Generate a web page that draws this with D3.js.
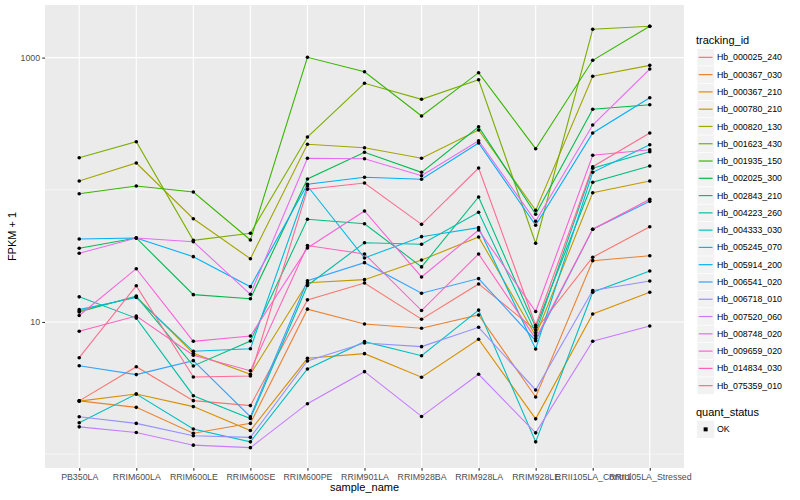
<!DOCTYPE html>
<html>
<head>
<meta charset="utf-8">
<script src="https://cdn.jsdelivr.net/npm/d3@7"></script>
<style>
  body { margin: 0; background: #fff; }
  text { font-family: "Liberation Sans", Arial, Helvetica, sans-serif; }
</style>
</head>
<body>
<div id="chart"></div>
<script>
// x categories
const samples = ["PB350LA", "RRIM600LA", "RRIM600LE", "RRIM600SE", "RRIM600PE", "RRIM901LA",
  "RRIM928BA", "RRIM928LA", "RRIM928LE", "RRII105LA_Control", "RRII105LA_Stressed"];

const trackingIds = ["Hb_000025_240", "Hb_000367_030", "Hb_000367_210", "Hb_000780_210", "Hb_000820_130",
  "Hb_001623_430", "Hb_001935_150", "Hb_002025_300", "Hb_002843_210", "Hb_004223_260",
  "Hb_004333_030", "Hb_005245_070", "Hb_005914_200", "Hb_006541_020", "Hb_006718_010",
  "Hb_007520_060", "Hb_008748_020", "Hb_009659_020", "Hb_014834_030", "Hb_075359_010"];

// FPKM + 1, one value per sample
const hb_000025_240 = [2.53, 4.59, 2.54, 2.33, 14.7, 19.7, 10.5, 19.4, 8.7, 30.9, 52.6];
const hb_000367_030 = [2.53, 2.26, 1.44, 1.71, 12.5, 9.66, 8.96, 11.3, 2.71, 29.1, 31.7];
const hb_000367_210 = [2.52, 2.85, 2.29, 1.51, 5.31, 5.76, 3.82, 7.40, 1.85, 11.5, 16.8];
const hb_000780_210 = [12.1, 15.5, 5.80, 4.02, 19.8, 20.9, 29.4, 43.9, 7.88, 95.1, 116.5];
const hb_000820_130 = [116.5, 159.5, 60.4, 30.1, 220.9, 208.2, 173.1, 283.4, 69.9, 722, 874];
const hb_001623_430 = [174.9, 231.1, 41.5, 46.9, 250.8, 639, 483.5, 680, 39.4, 1637, 1725];
const hb_001935_150 = [93.4, 106.8, 96.2, 41.7, 1005, 782, 361.5, 769, 204.6, 954, 1725];
const hb_002025_300 = [36.1, 43.2, 16.1, 15.0, 120.7, 192.1, 135.6, 300.1, 65.3, 406.3, 440.3];
const hb_002843_210 = [11.9, 15.7, 4.65, 7.18, 59.8, 55.4, 26.1, 88.2, 9.12, 113.9, 151.4];
const hb_004223_260 = [15.5, 10.7, 2.77, 1.86, 18.9, 39.8, 38.7, 67.6, 8.30, 145.4, 194.2];
const hb_004333_030 = [1.73, 2.85, 1.55, 1.24, 4.41, 7.10, 5.56, 12.3, 1.24, 16.8, 24.3];
const hb_005245_070 = [12.4, 15.3, 6.00, 6.28, 106.8, 30.5, 44.2, 51.7, 6.25, 135.6, 219.4];
const hb_005914_200 = [42.4, 43.2, 31.2, 18.5, 110.0, 124.3, 120.1, 225.9, 53.9, 268.9, 497.2];
const hb_006541_020 = [4.67, 4.00, 5.10, 1.92, 20.5, 28.1, 16.5, 21.3, 7.22, 50.3, 81.8];
const hb_006718_010 = [1.92, 1.71, 1.38, 1.34, 5.07, 6.94, 6.51, 9.12, 3.06, 17.3, 20.4];
const hb_007520_060 = [1.61, 1.46, 1.17, 1.12, 2.41, 4.21, 1.93, 4.02, 1.45, 7.14, 9.33];
const hb_008748_020 = [33.1, 43.2, 40.5, 16.2, 173.1, 171.9, 127.8, 235.1, 57.8, 309.2, 819.6];
const hb_009659_020 = [11.2, 25.3, 7.14, 7.84, 36.3, 69.1, 21.9, 49.6, 12.0, 182.4, 201.1];
const hb_014834_030 = [8.50, 11.1, 5.60, 4.28, 37.9, 32.7, 12.2, 32.7, 7.48, 50.3, 84.7];
const hb_075359_010 = [5.37, 18.8, 3.84, 3.90, 100.9, 112.5, 54.8, 146.2, 9.44, 149.5, 268.9];

const seriesValues = [hb_000025_240, hb_000367_030, hb_000367_210, hb_000780_210, hb_000820_130,
  hb_001623_430, hb_001935_150, hb_002025_300, hb_002843_210, hb_004223_260,
  hb_004333_030, hb_005245_070, hb_005914_200, hb_006541_020, hb_006718_010,
  hb_007520_060, hb_008748_020, hb_009659_020, hb_014834_030, hb_075359_010];

// ggplot default hue palette for 20 levels
const hueColors = ["#F8766D", "#EA8331", "#D89000", "#C09B00", "#A3A500", "#7CAE00", "#39B600",
  "#00BB4E", "#00BF7D", "#00C1A3", "#00BFC4", "#00BAE0", "#00B0F6", "#35A2FF", "#9590FF",
  "#C77CFF", "#E76BF3", "#FA62DB", "#FF62BC", "#FF6C91"];

const majorTicks = [10, 1000];
const minorTicks = [1, 100];
const statusLevels = ["OK"];

class ProfilePlot {
  constructor(_config) {
    this.config = {
      parentElement: _config.parentElement,
      width: 800,
      height: 500,
      margin: { top: 5, right: 116, bottom: 32, left: 45 }
    };
    this.initVis();
  }

  initVis() {
    const vis = this;
    const m = vis.config.margin;
    vis.innerW = vis.config.width - m.left - m.right;
    vis.innerH = vis.config.height - m.top - m.bottom;

    vis.root = d3.select(vis.config.parentElement).append("svg")
      .attr("width", vis.config.width)
      .attr("height", vis.config.height);

    vis.svg = vis.root.append("g")
      .attr("transform", `translate(${m.left},${m.top})`);

    vis.xScale = d3.scalePoint().domain(samples).range([0, vis.innerW]).padding(0.6);
    vis.yScale = d3.scaleLog().domain([0.786, 2500]).range([vis.innerH, 0]);

    vis.data = trackingIds.map((id, i) => ({
      id: id,
      color: hueColors[i],
      values: samples.map((s, j) => ({ sample: s, value: seriesValues[i][j] }))
    }));

    vis.renderPanel();
    vis.renderAxes();
    vis.renderLines();
    vis.renderLegend();
  }

  renderPanel() {
    const vis = this;
    vis.svg.append("rect")
      .attr("width", vis.innerW)
      .attr("height", vis.innerH)
      .attr("fill", "#EBEBEB");

    vis.svg.selectAll("line.minor")
      .data(minorTicks)
      .join("line")
      .attr("class", "minor")
      .attr("x1", 0).attr("x2", vis.innerW)
      .attr("y1", d => vis.yScale(d)).attr("y2", d => vis.yScale(d))
      .attr("stroke", "#fff").attr("stroke-width", 0.55);

    vis.svg.selectAll("line.majorY")
      .data(majorTicks)
      .join("line")
      .attr("class", "majorY")
      .attr("x1", 0).attr("x2", vis.innerW)
      .attr("y1", d => vis.yScale(d)).attr("y2", d => vis.yScale(d))
      .attr("stroke", "#fff").attr("stroke-width", 1.1);

    vis.svg.selectAll("line.majorX")
      .data(samples)
      .join("line")
      .attr("class", "majorX")
      .attr("x1", d => vis.xScale(d)).attr("x2", d => vis.xScale(d))
      .attr("y1", 0).attr("y2", vis.innerH)
      .attr("stroke", "#fff").attr("stroke-width", 1.1);
  }

  renderAxes() {
    const vis = this;
    const xAxis = vis.svg.append("g")
      .attr("transform", `translate(0,${vis.innerH})`)
      .call(d3.axisBottom(vis.xScale).tickSize(2.75).tickPadding(3.4));

    const yAxis = vis.svg.append("g")
      .call(d3.axisLeft(vis.yScale).tickValues(majorTicks)
        .tickFormat(d3.format("d")).tickSize(2.75).tickPadding(2.2));

    [xAxis, yAxis].forEach(ax => {
      ax.select(".domain").remove();
      ax.selectAll("line").attr("stroke", "#333333").attr("stroke-width", 1.1);
      ax.selectAll("text")
        .attr("fill", "#4D4D4D")
        .style("font-size", "8.8px")
        .style("font-family", "'Liberation Sans', Arial, sans-serif");
    });

    vis.svg.append("text")
      .attr("x", vis.innerW / 2)
      .attr("y", vis.innerH + 23)
      .attr("text-anchor", "middle")
      .style("font-size", "11px")
      .text("sample_name");

    vis.root.append("text")
      .attr("transform", `translate(16,${vis.config.margin.top + vis.innerH / 2}) rotate(-90)`)
      .attr("text-anchor", "middle")
      .style("font-size", "11px")
      .text("FPKM + 1");
  }

  renderLines() {
    const vis = this;
    const line = d3.line()
      .x(d => vis.xScale(d.sample))
      .y(d => vis.yScale(d.value));

    vis.svg.selectAll("path.series")
      .data(vis.data)
      .join("path")
      .attr("class", "series")
      .attr("d", d => line(d.values))
      .attr("fill", "none")
      .attr("stroke", d => d.color)
      .attr("stroke-width", 1.1);

    vis.svg.selectAll("g.pts")
      .data(vis.data)
      .join("g")
      .attr("class", "pts")
      .selectAll("circle")
      .data(d => d.values)
      .join("circle")
      .attr("cx", d => vis.xScale(d.sample))
      .attr("cy", d => vis.yScale(d.value))
      .attr("r", 1.8)
      .attr("fill", "#000");
  }

  renderLegend() {
    const vis = this;
    const key = 17.28;
    const lg = vis.root.append("g").attr("transform", "translate(696,0)");

    lg.append("text")
      .attr("x", 0).attr("y", 43.5)
      .style("font-size", "11px")
      .text("tracking_id");

    const items = lg.selectAll("g.item")
      .data(vis.data)
      .join("g")
      .attr("class", "item")
      .attr("transform", (d, i) => `translate(1,${48.7 + i * key})`);

    items.append("rect")
      .attr("width", key).attr("height", key)
      .attr("fill", "#F2F2F2").attr("stroke", "#fff").attr("stroke-width", 0.6);
    items.append("line")
      .attr("x1", 1.7).attr("x2", key - 1.7)
      .attr("y1", key / 2).attr("y2", key / 2)
      .attr("stroke", d => d.color).attr("stroke-width", 1.2);
    items.append("text")
      .attr("x", key + 2.6).attr("y", key / 2)
      .attr("dy", "0.35em")
      .style("font-size", "8.8px")
      .text(d => d.id);

    lg.append("text")
      .attr("x", 0).attr("y", 416.3)
      .style("font-size", "11px")
      .text("quant_status");

    const st = lg.selectAll("g.status")
      .data(statusLevels)
      .join("g")
      .attr("class", "status")
      .attr("transform", (d, i) => `translate(1,${420.7 + i * key})`);
    st.append("rect")
      .attr("width", key).attr("height", key)
      .attr("fill", "#F2F2F2");
    st.append("rect")
      .attr("x", key / 2 - 2).attr("y", key / 2 - 2)
      .attr("width", 4).attr("height", 4)
      .attr("fill", "#000");
    st.append("text")
      .attr("x", key + 2.6).attr("y", key / 2)
      .attr("dy", "0.35em")
      .style("font-size", "8.8px")
      .text(d => d);
  }
}

new ProfilePlot({ parentElement: "#chart" });
</script>
</body>
</html>
